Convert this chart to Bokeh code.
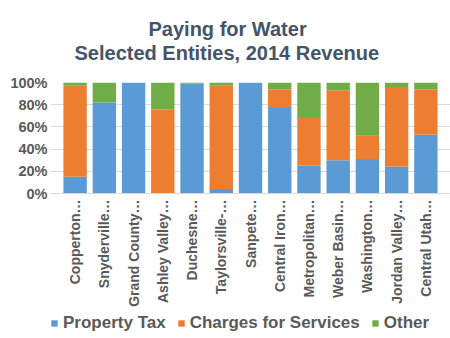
from math import pi
from bokeh.plotting import figure
from bokeh.models import Legend, NumeralTickFormatter, FactorRange, ColumnDataSource, Title, Span
from bokeh.core.properties import value
from bokeh.embed import file_html
from bokeh.resources import INLINE

entities = ["Copperton…", "Snyderville…", "Grand County…", "Ashley Valley…", "Duchesne…",
            "Taylorsville-…", "Sanpete…", "Central Iron…", "Metropolitan…", "Weber Basin…",
            "Washington…", "Jordan Valley…", "Central Utah…"]
property_tax = [0.15, 0.82, 1.00, 0.00, 0.99, 0.04, 1.00, 0.77, 0.25, 0.30, 0.31, 0.24, 0.53]
charges = [0.82, 0.00, 0.00, 0.76, 0.00, 0.93, 0.00, 0.17, 0.44, 0.63, 0.21, 0.72, 0.41]
other = [0.03, 0.18, 0.00, 0.24, 0.01, 0.03, 0.00, 0.06, 0.31, 0.07, 0.48, 0.04, 0.06]
series = ["Property Tax", "Charges for Services", "Other"]
colors = ["#5B9BD5", "#ED7D31", "#70AD47"]
y_ticks = [0, 0.2, 0.4, 0.6, 0.8, 1.0]
title_lines = ["Paying for Water", "Selected Entities, 2014 Revenue"]

src = ColumnDataSource(dict(entity=entities, **{"Property Tax": property_tax,
                                                "Charges for Services": charges,
                                                "Other": other}))

FONT = "Liberation Sans"
GRAY = "#595959"
TITLE_COLOR = "#44546A"

# frame extends down to the canvas bottom so the category labels and legend live inside it
p = figure(frame_width=400, frame_height=256,
           x_range=FactorRange(*entities, range_padding=20 / 380),
           y_range=(-145 / 111, 1), output_backend="svg", toolbar_location=None, title=None,
           min_border_left=50, min_border_right=0, min_border_top=82, min_border_bottom=0)

# spacer between the titles and the plot
p.add_layout(Title(text=" ", text_font=FONT, text_font_size="16px", standoff=0), "above")
p.add_layout(Title(text=title_lines[1], align="left", offset=24, text_font=FONT,
                   text_font_size="20px", text_font_style="bold", text_color=TITLE_COLOR,
                   standoff=0), "above")
p.add_layout(Title(text=title_lines[0], align="left", offset=98, text_font=FONT,
                   text_font_size="20px", text_font_style="bold", text_color=TITLE_COLOR,
                   standoff=0), "above")

rs = p.vbar_stack(series, x="entity", width=0.8, source=src, color=colors, line_color=None)

p.text(x="entity", y=0, text="entity", source=src, angle=pi / 2, text_align="right",
       text_baseline="middle", y_offset=6, text_font=value(FONT), text_font_size="14px",
       text_font_style="bold", text_color=GRAY)

p.add_layout(Span(location=0, dimension="width", line_color="#D9D9D9", line_width=1))

p.yaxis.formatter = NumeralTickFormatter(format="0%")
p.yaxis.ticker = y_ticks
p.yaxis.axis_line_color = None
p.yaxis.major_tick_line_color = None
p.yaxis.minor_tick_line_color = None
p.yaxis.major_tick_out = 0
p.yaxis.major_label_standoff = 3
p.yaxis.major_label_text_font = FONT
p.yaxis.major_label_text_font_size = "14.5px"
p.yaxis.major_label_text_font_style = "bold"
p.yaxis.major_label_text_color = GRAY
p.xaxis.visible = False
p.xgrid.grid_line_color = None
p.ygrid.grid_line_color = "#D9D9D9"
p.outline_line_color = None

legend = Legend(items=[(s, [r]) for s, r in zip(series, rs)], orientation="horizontal",
                location=(0, 5), border_line_color=None, background_fill_alpha=0,
                label_text_font=FONT, label_text_font_size="17px", label_text_font_style="bold",
                label_text_color=GRAY, glyph_width=8, glyph_height=8, spacing=11,
                label_standoff=5, padding=0, margin=0)
p.add_layout(legend, "center")

open("out.html", "w").write(file_html(p, INLINE))
